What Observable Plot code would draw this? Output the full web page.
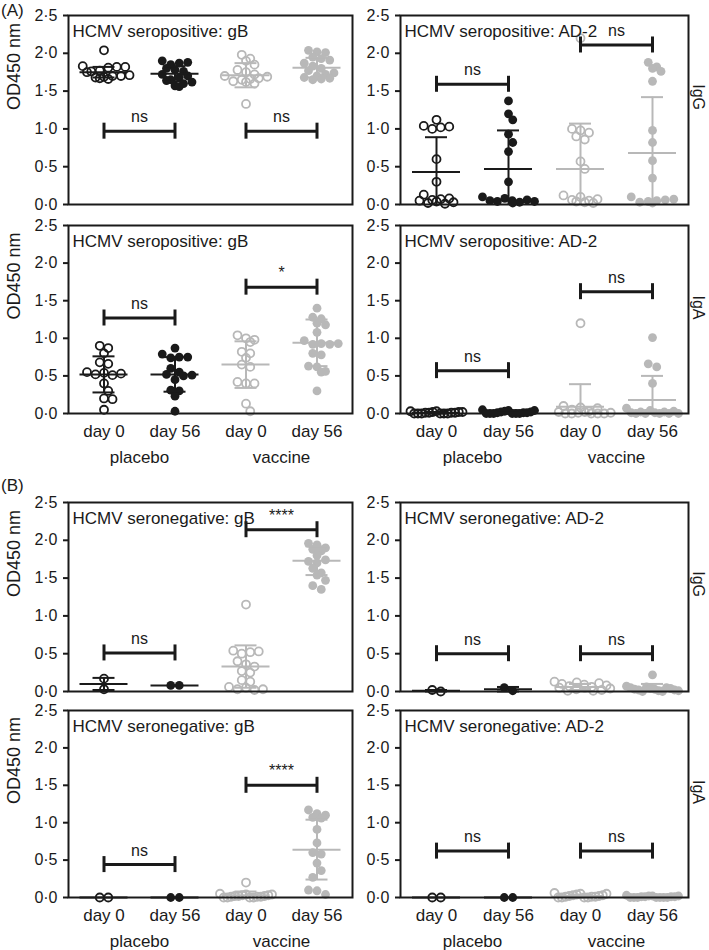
<!DOCTYPE html>
<html>
<head>
<meta charset="utf-8">
<script src="https://cdn.jsdelivr.net/npm/d3@7"></script>
<script src="https://cdn.jsdelivr.net/npm/@observablehq/plot@0.6"></script>
<style>
  body { margin: 0; background: #fff; }
  #fig { position: relative; width: 709px; height: 950px; font-family: "Liberation Sans", Arial, sans-serif; color: #1a1a1a; overflow: hidden; }
  .tag { position: absolute; font-size: 17px; line-height: 1; }
  g[aria-label^="y-axis"] line, g[aria-label^="y-axis"] path { stroke-width: 2px; }
  g[aria-label^="x-axis"] text { font-size: 17px; }
</style>
</head>
<body>
<div id="fig"></div>
<script>
// ---------- labels ----------
const groups = ["placebo day 0", "placebo day 56", "vaccine day 0", "vaccine day 56"];
const dayLabels = ["day 0", "day 56", "day 0", "day 56"];
const armLabels = ["placebo", "vaccine"];
const yTicks = [0, 0.5, 1, 1.5, 2, 2.5];
const sectionLabels = ["(A)", "(B)"];
const isotypeLabels = ["IgG", "IgA", "IgG", "IgA"];
const panelTitles = [
  "HCMV seropositive: gB", "HCMV seropositive: AD-2",
  "HCMV seropositive: gB", "HCMV seropositive: AD-2",
  "HCMV seronegative: gB", "HCMV seronegative: AD-2",
  "HCMV seronegative: gB", "HCMV seronegative: AD-2"
];
const yLabel = "OD450 nm";

// ---------- (A) seropositive, IgG, gB ----------
const posIgG_gB = [
  [2.04, 1.83, 1.82, 1.82, 1.81, 1.77, 1.76, 1.75, 1.71, 1.70, 1.70, 1.69, 1.68, 1.67, 1.66],
  [1.90, 1.88, 1.87, 1.85, 1.80, 1.78, 1.76, 1.72, 1.70, 1.68, 1.65, 1.64, 1.62, 1.60, 1.57, 1.56],
  [1.98, 1.93, 1.90, 1.85, 1.78, 1.75, 1.72, 1.70, 1.69, 1.67, 1.66, 1.65, 1.63, 1.62, 1.60, 1.33],
  [2.04, 2.02, 2.01, 1.95, 1.93, 1.91, 1.87, 1.83, 1.80, 1.77, 1.74, 1.72, 1.70, 1.68, 1.67, 1.66, 1.65]
];
const posIgG_gB_mean = [1.75, 1.73, 1.71, 1.81];
const posIgG_gB_sd = [0.07, 0.10, 0.16, 0.13];
const posIgG_gB_sigY = [0.97, 0.97];
const posIgG_gB_sig = ["ns", "ns"];

// ---------- (A) seropositive, IgG, AD-2 ----------
const posIgG_AD2 = [
  [1.12, 1.04, 1.03, 1.02, 1.00, 0.60, 0.30, 0.13, 0.08, 0.07, 0.06, 0.05, 0.04, 0.03, 0.02, 0.01],
  [1.37, 1.20, 1.12, 0.93, 0.82, 0.70, 0.30, 0.10, 0.08, 0.06, 0.05, 0.05, 0.04, 0.04, 0.03, 0.02],
  [2.20, 1.00, 0.98, 0.95, 0.90, 0.86, 0.57, 0.47, 0.12, 0.10, 0.07, 0.06, 0.05, 0.04, 0.03, 0.02],
  [1.88, 1.82, 1.80, 1.76, 1.63, 0.98, 0.82, 0.58, 0.35, 0.10, 0.07, 0.06, 0.05, 0.04, 0.03, 0.02]
];
const posIgG_AD2_mean = [0.43, 0.47, 0.47, 0.68];
const posIgG_AD2_sd = [0.46, 0.51, 0.60, 0.74];
const posIgG_AD2_sigY = [1.59, 2.11];
const posIgG_AD2_sig = ["ns", "ns"];

// ---------- (A) seropositive, IgA, gB ----------
const posIgA_gB = [
  [0.90, 0.87, 0.80, 0.68, 0.66, 0.55, 0.54, 0.53, 0.52, 0.51, 0.40, 0.30, 0.20, 0.19, 0.05],
  [0.87, 0.79, 0.75, 0.75, 0.74, 0.60, 0.55, 0.52, 0.51, 0.50, 0.45, 0.31, 0.30, 0.23, 0.03],
  [1.04, 1.00, 0.98, 0.95, 0.82, 0.80, 0.74, 0.65, 0.62, 0.42, 0.40, 0.40, 0.13, 0.03],
  [1.40, 1.28, 1.26, 1.20, 1.18, 1.08, 0.97, 0.93, 0.93, 0.92, 0.92, 0.80, 0.78, 0.63, 0.62, 0.56, 0.55, 0.30]
];
const posIgA_gB_mean = [0.52, 0.52, 0.65, 0.94];
const posIgA_gB_sd = [0.24, 0.23, 0.31, 0.31];
const posIgA_gB_sigY = [1.27, 1.68];
const posIgA_gB_sig = ["ns", "*"];

// ---------- (A) seropositive, IgA, AD-2 ----------
const posIgA_AD2 = [
  [0.03, 0.03, 0.02, 0.02, 0.02, 0.01, 0.01, 0.01, 0.01, 0.00, 0.00, 0.00, 0.00, 0.00, 0.00],
  [0.05, 0.04, 0.04, 0.03, 0.02, 0.02, 0.01, 0.01, 0.01, 0.00, 0.00, 0.00, 0.00, 0.00, 0.00],
  [1.20, 0.10, 0.08, 0.07, 0.05, 0.03, 0.02, 0.02, 0.01, 0.01, 0.00, 0.00, 0.00, 0.00, 0.00],
  [1.01, 0.66, 0.62, 0.40, 0.07, 0.04, 0.03, 0.02, 0.02, 0.01, 0.01, 0.00, 0.00, 0.00, 0.00, 0.00]
];
const posIgA_AD2_mean = [0.01, 0.02, 0.09, 0.18];
const posIgA_AD2_sd = [0.01, 0.02, 0.30, 0.32];
const posIgA_AD2_sigY = [0.57, 1.62];
const posIgA_AD2_sig = ["ns", "ns"];

// ---------- (B) seronegative, IgG, gB ----------
const negIgG_gB = [
  [0.17, 0.03],
  [0.08, 0.08],
  [1.15, 0.54, 0.53, 0.52, 0.50, 0.40, 0.36, 0.33, 0.27, 0.25, 0.15, 0.13, 0.06, 0.05, 0.03, 0.03, 0.02],
  [1.96, 1.94, 1.90, 1.88, 1.86, 1.80, 1.74, 1.72, 1.70, 1.63, 1.57, 1.54, 1.47, 1.40, 1.35]
];
const negIgG_gB_mean = [0.10, 0.08, 0.33, 1.73];
const negIgG_gB_sd = [0.08, 0.00, 0.28, 0.19];
const negIgG_gB_sigY = [0.51, 2.14];
const negIgG_gB_sig = ["ns", "****"];

// ---------- (B) seronegative, IgG, AD-2 ----------
const negIgG_AD2 = [
  [0.02, 0.00],
  [0.05, 0.01],
  [0.13, 0.12, 0.11, 0.10, 0.09, 0.08, 0.07, 0.06, 0.05, 0.05, 0.04, 0.03, 0.02, 0.01, 0.01],
  [0.22, 0.07, 0.06, 0.05, 0.05, 0.04, 0.04, 0.03, 0.03, 0.02, 0.02, 0.01, 0.01, 0.00, 0.00]
];
const negIgG_AD2_mean = [0.01, 0.03, 0.06, 0.05];
const negIgG_AD2_sd = [0.01, 0.03, 0.04, 0.05];
const negIgG_AD2_sigY = [0.50, 0.50];
const negIgG_AD2_sig = ["ns", "ns"];

// ---------- (B) seronegative, IgA, gB ----------
const negIgA_gB = [
  [0.00, 0.00],
  [0.00, 0.00],
  [0.20, 0.05, 0.04, 0.04, 0.03, 0.03, 0.02, 0.02, 0.02, 0.01, 0.01, 0.01, 0.00, 0.00, 0.00, 0.00],
  [1.17, 1.12, 1.10, 1.07, 1.06, 0.91, 0.73, 0.60, 0.58, 0.46, 0.36, 0.27, 0.10, 0.09, 0.04]
];
const negIgA_gB_mean = [0.00, 0.00, 0.03, 0.64];
const negIgA_gB_sd = [0.00, 0.00, 0.05, 0.40];
const negIgA_gB_sigY = [0.44, 1.50];
const negIgA_gB_sig = ["ns", "****"];

// ---------- (B) seronegative, IgA, AD-2 ----------
const negIgA_AD2 = [
  [0.00, 0.00],
  [0.00, 0.00],
  [0.06, 0.05, 0.05, 0.04, 0.03, 0.03, 0.02, 0.02, 0.01, 0.01, 0.01, 0.00, 0.00, 0.00, 0.00],
  [0.03, 0.02, 0.02, 0.02, 0.01, 0.01, 0.01, 0.01, 0.00, 0.00, 0.00, 0.00, 0.00, 0.00, 0.00]
];
const negIgA_AD2_mean = [0.00, 0.00, 0.02, 0.01];
const negIgA_AD2_sd = [0.00, 0.00, 0.02, 0.01];
const negIgA_AD2_sigY = [0.62, 0.62];
const negIgA_AD2_sig = ["ns", "ns"];

// ---------- layout ----------
const ink = "#1a1a1a";
const gray = "#b8b8b8";
const rows = [
  {top: 0,   mt: 15, fh: 189, mb: 6,  xAxis: false},
  {top: 212, mt: 13, fh: 188, mb: 55, xAxis: true},
  {top: 490, mt: 12, fh: 189, mb: 6,  xAxis: false},
  {top: 698, mt: 12, fh: 187, mb: 52, xAxis: true}
];
const cols = [
  {left: 0,   width: 360, ml: 68, mr: 8},
  {left: 360, width: 349, ml: 40, mr: 21}
];
const panels = [
  [posIgG_gB, posIgG_gB_mean, posIgG_gB_sd, posIgG_gB_sigY, posIgG_gB_sig],
  [posIgG_AD2, posIgG_AD2_mean, posIgG_AD2_sd, posIgG_AD2_sigY, posIgG_AD2_sig],
  [posIgA_gB, posIgA_gB_mean, posIgA_gB_sd, posIgA_gB_sigY, posIgA_gB_sig],
  [posIgA_AD2, posIgA_AD2_mean, posIgA_AD2_sd, posIgA_AD2_sigY, posIgA_AD2_sig],
  [negIgG_gB, negIgG_gB_mean, negIgG_gB_sd, negIgG_gB_sigY, negIgG_gB_sig],
  [negIgG_AD2, negIgG_AD2_mean, negIgG_AD2_sd, negIgG_AD2_sigY, negIgG_AD2_sig],
  [negIgA_gB, negIgA_gB_mean, negIgA_gB_sd, negIgA_gB_sigY, negIgA_gB_sig],
  [negIgA_AD2, negIgA_AD2_mean, negIgA_AD2_sd, negIgA_AD2_sigY, negIgA_AD2_sig]
];

const fmt = d => d.toFixed(1).replace(".", "\u00b7");

function gcd(a, b) { return b ? gcd(b, a % b) : a; }

// Prism-like scatter: points with close values share a row, rows are centred,
// and members of a row are spread in a scrambled order so rows stay level.
function swarm(vals, pxY, pxX) {
  const D = 8.5, half = 26;
  const idx = vals.map((v, i) => i).sort((a, b) => vals[b] - vals[a]);
  const off = new Array(vals.length).fill(0);
  let row = [], prev = null;
  const flush = () => {
    const n = row.length;
    const sp = n > 1 ? Math.min(D, 2 * half / (n - 1)) : 0;
    let stride = Math.max(1, Math.round(n * 0.38));
    while (n > 1 && gcd(stride, n) !== 1) stride++;
    const slot = row.map((_, k) => (k * stride) % n);
    const base = row.map((_, k) => (slot[k] - (n - 1) / 2) * sp);
    const yRow = vals[row[0]] * pxY;
    let best = 0;
    if (prev && Math.abs(prev.y - yRow) < D) {
      let bestCost = Infinity;
      for (const s of [0, D / 2, -D / 2]) {
        let cost = 0;
        for (const b of base) for (const p of prev.px) {
          const dist = Math.hypot(b + s - p, prev.y - yRow);
          if (dist < D) cost += D - dist;
        }
        if (cost < bestCost - 1e-9) { bestCost = cost; best = s; }
      }
    }
    row.forEach((i, k) => off[i] = (base[k] + best) / pxX);
    prev = {y: yRow, px: base.map(b => b + best)};
    row = [];
  };
  for (const i of idx) {
    if (row.length && (vals[row[0]] - vals[i]) * pxY > D * 0.7) flush();
    row.push(i);
  }
  if (row.length) flush();
  return off;
}

const fig = document.getElementById("fig");

panels.forEach(([values, means, sds, sigY, sig], pi) => {
  const r = Math.floor(pi / 2), c = pi % 2;
  const row = rows[r], col = cols[c];
  const W = col.width - col.ml - col.mr;
  const H = row.fh;
  const pxX = W / 4, pxY = H / 2.5;
  const marks = [];

  // dots
  values.forEach((vals, gi) => {
    const color = gi < 2 ? ink : gray;
    const offs = swarm(vals, pxY, pxX);
    const pts = vals.map((v, k) => ({group: groups[gi], v, x: gi + offs[k]}));
    if (gi % 2 === 0) {
      marks.push(Plot.dot(pts, {x: "x", y: "v", r: 4.0, stroke: color, strokeWidth: 1.8, fill: "none"}));
    } else {
      marks.push(Plot.dot(pts, {x: "x", y: "v", r: 4.4, fill: color, stroke: "none"}));
    }
  });

  // mean ± SD
  const meanHalf = 24 / pxX, capHalf = 11 / pxX;
  means.forEach((m, gi) => {
    const color = gi < 2 ? ink : gray;
    const s = sds[gi];
    const st = [{x: gi, m, hi: m + s, lo: Math.max(0, m - s), lowCap: m - s >= 0}];
    marks.push(Plot.ruleY(st, {y: "m", x1: d => d.x - meanHalf, x2: d => d.x + meanHalf, stroke: color, strokeWidth: 2}));
    if (s > 0) {
      marks.push(Plot.ruleX(st, {x: "x", y1: "lo", y2: "hi", stroke: color, strokeWidth: 2}));
      marks.push(Plot.ruleY(st, {y: "hi", x1: d => d.x - capHalf, x2: d => d.x + capHalf, stroke: color, strokeWidth: 2}));
      marks.push(Plot.ruleY(st.filter(d => d.lowCap), {y: "lo", x1: d => d.x - capHalf, x2: d => d.x + capHalf, stroke: color, strokeWidth: 2}));
    }
  });

  // significance brackets
  const br = sigY.map((y, k) => ({x1: 2 * k, x2: 2 * k + 1, y, label: sig[k]}));
  const ends = br.flatMap(b => [
    {x: b.x1, y1: b.y - 8 / pxY, y2: b.y + 8 / pxY},
    {x: b.x2, y1: b.y - 8 / pxY, y2: b.y + 8 / pxY}
  ]);
  marks.push(Plot.ruleY(br, {y: "y", x1: "x1", x2: "x2", stroke: ink, strokeWidth: 3}));
  marks.push(Plot.ruleX(ends, {x: "x", y1: "y1", y2: "y2", stroke: ink, strokeWidth: 3}));
  marks.push(Plot.text(br, {x: d => (d.x1 + d.x2) / 2, y: "y", dy: -14, text: "label", fill: ink, fontSize: 16}));

  // panel title
  marks.push(Plot.text([panelTitles[pi]], {frameAnchor: "top-left", dx: 4, dy: 9, lineAnchor: "top", textAnchor: "start", text: d => d, fill: ink, fontSize: 17}));

  // frame
  marks.push(Plot.frame({stroke: ink, strokeWidth: 2}));

  // side labels
  if (c === 0) {
    marks.push(Plot.text([yLabel], {frameAnchor: "left", dx: -54, rotate: -90, text: d => d, fill: ink, fontSize: 18}));
  } else {
    marks.push(Plot.text([isotypeLabels[r]], {frameAnchor: "right", dx: 10, rotate: 90, text: d => d, fill: ink, fontSize: 16}));
  }
  if (row.xAxis) {
    marks.push(Plot.text(armLabels, {x: (d, i) => 2 * i + 0.5, y: () => 0, dy: 44, text: d => d, fill: ink, fontSize: 17}));
  }

  const svg = Plot.plot({
    width: col.width,
    height: row.mt + H + row.mb,
    marginLeft: col.ml,
    marginRight: col.mr,
    marginTop: row.mt,
    marginBottom: row.mb,
    x: {
      domain: [-0.5, 3.5],
      axis: row.xAxis ? "bottom" : null,
      ticks: [0, 1, 2, 3],
      tickFormat: i => dayLabels[i],
      tickSize: 0,
      tickPadding: 11,
      label: null
    },
    y: {
      domain: [0, 2.5],
      ticks: yTicks,
      tickFormat: fmt,
      tickSize: 5,
      tickPadding: 6,
      label: null
    },
    style: {
      fontSize: "16px",
      fontFamily: "'Liberation Sans', Arial, sans-serif",
      color: ink,
      background: "transparent",
      overflow: "visible"
    },
    marks
  });
  svg.style.position = "absolute";
  svg.style.left = col.left + "px";
  svg.style.top = row.top + "px";
  fig.appendChild(svg);
});

// section tags
[[sectionLabels[0], 1, 2], [sectionLabels[1], 1, 477]].forEach(([t, x, y]) => {
  const d = document.createElement("div");
  d.className = "tag";
  d.textContent = t;
  d.style.left = x + "px";
  d.style.top = y + "px";
  fig.appendChild(d);
});
</script>
</body>
</html>
